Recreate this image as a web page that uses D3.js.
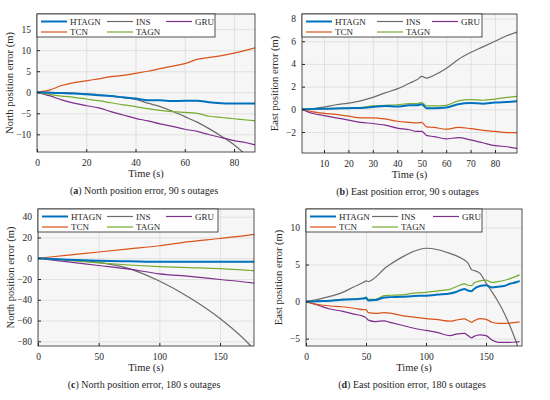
<!DOCTYPE html>
<html>
<head>
<meta charset="utf-8">
<script src="https://cdn.jsdelivr.net/npm/d3@7"></script>
<style>
  body { margin: 0; background: #fff; }
  svg text { font-family: "Liberation Serif", "DejaVu Serif", serif; fill: #262626; }
</style>
</head>
<body>
<div id="chart"></div>
<script>
const width = 550;
const height = 400;

const seriesNames = ['HTAGN', 'INS', 'GRU', 'TCN', 'TAGN'];
const seriesColors = ['#0072BD', '#6b6b6b', '#7E2F8E', '#D95319', '#77AC30'];

// (a) north error, 90 s outage
const aTime  = [0, 5, 10, 15, 20, 25, 30, 35, 40, 45, 50, 55, 60, 65, 70, 75, 80, 85, 89];
const aHTAGN = [0, -0.1, -0.2, -0.3, -0.5, -0.7, -0.9, -1.2, -1.5, -1.9, -1.9, -2.1, -2.0, -2.0, -2.4, -2.6, -2.7, -2.7, -2.7];
const aINS   = [0, -0.05, -0.1, -0.2, -0.4, -0.6, -0.9, -1.3, -1.7, -2.6, -3.4, -4.5, -5.8, -7.1, -8.7, -10.5, -12.5, -15.0, -17.0];
const aGRU   = [0, -0.8, -1.8, -2.6, -3.2, -3.7, -4.6, -5.4, -6.2, -6.8, -7.5, -8.1, -8.8, -9.3, -10.1, -10.8, -11.5, -12.0, -12.6];
const aTCN   = [0, 0.5, 1.6, 2.3, 2.7, 3.2, 3.7, 4.0, 4.5, 5.0, 5.6, 6.2, 6.8, 7.8, 8.3, 8.7, 9.3, 10.0, 10.6];
const aTAGN  = [0, -0.5, -0.9, -1.2, -1.6, -2.0, -2.5, -3.0, -3.4, -3.9, -4.3, -4.6, -4.8, -5.0, -5.7, -6.0, -6.3, -6.6, -6.8];

// (b) east error, 90 s outage
const bTime  = [1, 5, 10, 15, 20, 25, 30, 35, 40, 45, 48, 50, 52, 55, 60, 65, 70, 75, 80, 85, 89];
const bHTAGN = [0, 0.02, 0.05, 0.08, 0.1, 0.12, 0.2, 0.3, 0.25, 0.35, 0.35, 0.45, 0.1, 0.1, 0.15, 0.45, 0.55, 0.5, 0.6, 0.65, 0.7];
const bINS   = [0, 0.05, 0.2, 0.4, 0.55, 0.75, 1.05, 1.45, 1.8, 2.3, 2.6, 2.9, 2.75, 3.0, 3.6, 4.4, 5.0, 5.5, 6.0, 6.5, 6.8];
const bGRU   = [0, -0.35, -0.55, -0.75, -0.95, -1.15, -1.25, -1.4, -1.65, -1.8, -1.95, -1.95, -2.3, -2.4, -2.6, -2.5, -2.7, -2.95, -3.2, -3.3, -3.45];
const bTCN   = [0, -0.2, -0.35, -0.45, -0.6, -0.75, -0.75, -0.85, -1.05, -1.15, -1.2, -1.15, -1.55, -1.6, -1.75, -1.6, -1.7, -1.85, -1.95, -2.05, -2.05];
const bTAGN  = [0, 0.02, 0.05, 0.08, 0.1, 0.15, 0.3, 0.35, 0.4, 0.5, 0.5, 0.6, 0.3, 0.3, 0.35, 0.75, 0.85, 0.8, 0.9, 1.05, 1.15];

// (c) north error, 180 s outage
const cTime  = [0, 25, 50, 75, 100, 125, 150, 175, 178];
const cHTAGN = [0, -1.5, -2.5, -3, -3.5, -3.5, -3.5, -3.5, -3.5];
const cINS   = [0, -1.5, -4, -10, -22, -38, -58, -84, -88];
const cGRU   = [0, -3.5, -7, -10.5, -15, -17.5, -20.5, -23.5, -24];
const cTCN   = [0, 3, 6, 9, 12, 16, 19, 22.5, 23];
const cTAGN  = [0, -2, -4.5, -6.5, -8, -9, -10, -11.8, -12];

// (d) east error, 180 s outage
const dTime  = [0, 10, 20, 30, 40, 48, 50, 52, 58, 65, 70, 80, 90, 100, 110, 120, 125, 132, 135, 138, 140, 145, 150, 155, 160, 165, 170, 175, 178];
const dHTAGN = [0, 0.05, 0.1, 0.25, 0.3, 0.4, 0.5, 0.15, 0.2, 0.55, 0.6, 0.65, 0.75, 0.8, 0.95, 1.1, 1.3, 1.7, 1.5, 1.4, 1.7, 2.1, 2.2, 1.9, 2.0, 2.1, 2.4, 2.6, 2.8];
const dINS   = [0, 0.3, 0.7, 1.2, 2.0, 2.6, 2.8, 2.7, 3.3, 4.4, 5.0, 6.0, 6.8, 7.2, 7.0, 6.5, 6.2, 5.6, 5.2, 4.3, 4.2, 3.8, 2.5, 1.3, 0, -1.5, -3.3, -5.4, -6.8];
const dGRU   = [0, -0.5, -1.0, -1.3, -1.7, -2.0, -2.2, -2.5, -2.7, -2.6, -2.8, -3.2, -3.6, -3.9, -4.2, -4.6, -4.4, -4.3, -4.6, -4.9, -4.7, -4.5, -4.6, -5.2, -5.5, -5.5, -5.5, -5.45, -5.4];
const dTCN   = [0, -0.4, -0.6, -0.7, -0.9, -1.1, -1.1, -1.5, -1.6, -1.5, -1.55, -1.9, -2.1, -2.3, -2.45, -2.65, -2.5, -2.35, -2.55, -2.8, -2.6, -2.3, -2.4, -2.8, -2.95, -2.95, -2.9, -2.8, -2.75];
const dTAGN  = [0, 0.05, 0.1, 0.3, 0.35, 0.45, 0.6, 0.3, 0.3, 0.8, 0.85, 0.9, 1.15, 1.25, 1.45, 1.65, 2.0, 2.4, 2.2, 2.15, 2.5, 2.8, 2.9, 2.6, 2.7, 2.85, 3.1, 3.4, 3.6];

const aTicksX = [0, 20, 40, 60, 80];
const aTicksY = [-10, -5, 0, 5, 10, 15];
const bTicksX = [10, 20, 30, 40, 50, 60, 70, 80];
const bTicksY = [-2, 0, 2, 4, 6, 8];
const cTicksX = [0, 50, 100, 150];
const cTicksY = [-80, -60, -40, -20, 0, 20, 40];
const dTicksX = [0, 50, 100, 150];
const dTicksY = [-5, 0, 5, 10];

const serif = '"Liberation Serif", "DejaVu Serif", serif';

const svg = d3.select('#chart')
  .append('svg')
    .attr('width', width)
    .attr('height', height)
    .attr('font-family', serif);

const panels = [
  { id: 'a', box: {left: 37, right: 255, top: 14, bottom: 152},
    xDomain: [0, 88.5], yDomain: [-14.2, 18.6], xTicks: aTicksX, yTicks: aTicksY,
    time: aTime, series: [aHTAGN, aINS, aGRU, aTCN, aTAGN],
    legendW: 178, legendCols: [4, 70, 129],
    ylabel: 'North position error (m)', caption: 'North position error, 90 s outages' },
  { id: 'b', box: {left: 302, right: 517, top: 14, bottom: 153},
    xDomain: [1, 89], yDomain: [-3.85, 8.4], xTicks: bTicksX, yTicks: bTicksY,
    time: bTime, series: [bHTAGN, bINS, bGRU, bTCN, bTAGN],
    legendW: 180, legendCols: [4, 75, 130],
    ylabel: 'East position error (m)', caption: 'East position error, 90 s outages' },
  { id: 'c', box: {left: 38, right: 254, top: 209, bottom: 346},
    xDomain: [0, 178], yDomain: [-84.5, 47.4], xTicks: cTicksX, yTicks: cTicksY,
    time: cTime, series: [cHTAGN, cINS, cGRU, cTCN, cTAGN],
    legendW: 180, legendCols: [4, 69, 128],
    ylabel: 'North position error (m)', caption: 'North position error, 180 s outages' },
  { id: 'd', box: {left: 306, right: 522, top: 209, bottom: 346},
    xDomain: [0, 180], yDomain: [-6, 12.5], xTicks: dTicksX, yTicks: dTicksY,
    time: dTime, series: [dHTAGN, dINS, dGRU, dTCN, dTAGN],
    legendW: 176, legendCols: [4, 66, 127],
    ylabel: 'East position error (m)', caption: 'East position error, 180 s outages' }
];

panels.forEach(p => drawPanel(p));

function drawPanel(p) {
  const b = p.box;
  const x = d3.scaleLinear().domain(p.xDomain).range([b.left, b.right]);
  const y = d3.scaleLinear().domain(p.yDomain).range([b.bottom, b.top]);
  const g = svg.append('g').attr('class', 'panel panel-' + p.id);

  // plot background
  g.append('rect')
    .attr('x', b.left).attr('y', b.top)
    .attr('width', b.right - b.left).attr('height', b.bottom - b.top)
    .attr('fill', '#f6f6f6');

  // grid
  g.append('g')
    .attr('transform', 'translate(0,' + b.bottom + ')')
    .call(d3.axisBottom(x).tickValues(p.xTicks).tickSize(-(b.bottom - b.top)).tickFormat(''))
    .call(a => a.select('.domain').remove())
    .call(a => a.selectAll('line').attr('stroke', '#dcdcdc').attr('stroke-width', 0.8));
  g.append('g')
    .attr('transform', 'translate(' + b.left + ',0)')
    .call(d3.axisLeft(y).tickValues(p.yTicks).tickSize(-(b.right - b.left)).tickFormat(''))
    .call(a => a.select('.domain').remove())
    .call(a => a.selectAll('line').attr('stroke', '#dcdcdc').attr('stroke-width', 0.8));

  // lines, clipped to plot box
  g.append('clipPath').attr('id', 'clip-' + p.id)
    .append('rect')
      .attr('x', b.left).attr('y', b.top)
      .attr('width', b.right - b.left).attr('height', b.bottom - b.top);

  const line = d3.line()
    .x((d, i) => x(p.time[i]))
    .y(d => y(d))
    .curve(d3.curveMonotoneX);

  const lines = g.append('g').attr('clip-path', 'url(#clip-' + p.id + ')');
  // others first, HTAGN on top
  [1, 2, 3, 4, 0].forEach(k => {
    lines.append('path')
      .datum(p.series[k])
      .attr('fill', 'none')
      .attr('stroke', seriesColors[k])
      .attr('stroke-width', k === 0 ? 2 : 1.2)
      .attr('d', line);
  });

  // axes with inward ticks
  const xa = g.append('g')
    .attr('transform', 'translate(0,' + b.bottom + ')')
    .call(d3.axisBottom(x).tickValues(p.xTicks).tickSizeInner(-3).tickSizeOuter(0).tickPadding(7));
  const ya = g.append('g')
    .attr('transform', 'translate(' + b.left + ',0)')
    .call(d3.axisLeft(y).tickValues(p.yTicks).tickSizeInner(-3).tickSizeOuter(0).tickPadding(6)
      .tickFormat(d => d < 0 ? '\u2212' + Math.abs(d) : d));
  [xa, ya].forEach(a => {
    a.attr('font-family', serif);
    a.select('.domain').remove();
    a.selectAll('line').attr('stroke', '#262626');
    a.selectAll('text').attr('font-size', 9.5).attr('fill', '#262626');
  });

  // frame
  g.append('rect')
    .attr('x', b.left).attr('y', b.top)
    .attr('width', b.right - b.left).attr('height', b.bottom - b.top)
    .attr('fill', 'none').attr('stroke', '#262626').attr('stroke-width', 0.8);

  // legend
  const lg = g.append('g').attr('transform', 'translate(' + b.left + ',' + b.top + ')');
  lg.append('rect')
    .attr('width', p.legendW).attr('height', 23)
    .attr('fill', '#fff').attr('stroke', '#262626').attr('stroke-width', 0.8);
  seriesNames.forEach((name, k) => {
    const cx = p.legendCols[k % 3];
    const cy = k < 3 ? 7.5 : 18;
    lg.append('line')
      .attr('x1', cx).attr('x2', cx + 26).attr('y1', cy).attr('y2', cy)
      .attr('stroke', seriesColors[k]).attr('stroke-width', k === 0 ? 2 : 1.2);
    lg.append('text')
      .attr('x', cx + 29).attr('y', cy + 3.2)
      .attr('font-size', 9)
      .text(name);
  });

  // axis labels
  g.append('text')
    .attr('x', (b.left + b.right) / 2).attr('y', b.bottom + 25)
    .attr('text-anchor', 'middle').attr('font-size', 10.5)
    .text('Time (s)');
  g.append('text')
    .attr('transform', 'translate(' + (b.left - 24) + ',' + ((b.top + b.bottom) / 2) + ') rotate(-90)')
    .attr('text-anchor', 'middle').attr('font-size', 10.5)
    .text(p.ylabel);

  // caption
  const cap = g.append('text')
    .attr('x', (b.left + b.right) / 2 - 2).attr('y', b.bottom + 42)
    .attr('text-anchor', 'middle').attr('font-size', 10);
  cap.append('tspan').text('(');
  cap.append('tspan').attr('font-weight', 'bold').text(p.id);
  cap.append('tspan').text(') ' + p.caption);
}
</script>
</body>
</html>
